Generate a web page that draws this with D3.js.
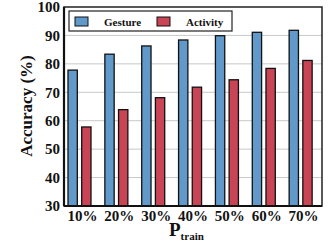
<!DOCTYPE html>
<html>
<head>
<meta charset="utf-8">
<script src="https://d3js.org/d3.v7.min.js"></script>
<style>
  body { margin: 0; background: #fff; }
  text { font-family: "Liberation Serif", "Times New Roman", serif; font-weight: bold; }
</style>
</head>
<body>
<div id="chart"></div>
<script>
var width = 331;
var height = 246;

var categories = ["10%", "20%", "30%", "40%", "50%", "60%", "70%"];
var seriesNames = ["Gesture", "Activity"];
var gesture = [77.8, 83.4, 86.3, 88.4, 89.9, 91.1, 91.8];
var activity = [57.8, 63.9, 68.1, 71.8, 74.4, 78.4, 81.2];
var yTicks = [30, 40, 50, 60, 70, 80, 90, 100];
var colors = ["#6199cb", "#c94556"];

var margin = {left: 64, right: 9, top: 7, bottom: 40};
var plotW = width - margin.left - margin.right;
var plotH = height - margin.top - margin.bottom;

var svg = d3.select("#chart").append("svg")
    .attr("width", width)
    .attr("height", height);

var g = svg.append("g")
    .attr("transform", "translate(" + margin.left + "," + margin.top + ")");

var x = d3.scaleBand().domain(categories).range([0, plotW]).padding(0);
var xs = d3.scaleBand().domain(seriesNames).range([4, 27]).paddingInner(0.32);
var y = d3.scaleLinear().domain([30, 100]).range([plotH, 0]);

// gridlines
g.append("g")
    .selectAll("line")
    .data(yTicks.slice(1, -1))
    .enter()
    .append("line")
    .attr("x1", 0).attr("x2", plotW)
    .attr("y1", function(d) { return y(d); })
    .attr("y2", function(d) { return y(d); })
    .attr("stroke", "#c8c8c8")
    .attr("stroke-width", 1);

var rows = categories.map(function(c, i) {
    return {cat: c, vals: [gesture[i], activity[i]]};
});

var groups = g.selectAll("g.grp")
    .data(rows)
    .enter()
    .append("g")
    .attr("class", "grp")
    .attr("transform", function(d) { return "translate(" + x(d.cat) + ",0)"; });

groups.selectAll("rect")
    .data(function(d) { return d.vals.map(function(v, j) { return {name: seriesNames[j], v: v, j: j}; }); })
    .enter()
    .append("rect")
    .attr("x", function(d) { return xs(d.name); })
    .attr("width", xs.bandwidth())
    .attr("y", function(d) { return y(d.v); })
    .attr("height", function(d) { return plotH - y(d.v); })
    .attr("fill", function(d) { return colors[d.j]; })
    .attr("stroke", "#111")
    .attr("stroke-width", 1.3);

// frame
g.append("rect")
    .attr("x", 0).attr("y", 0)
    .attr("width", plotW).attr("height", plotH)
    .attr("fill", "none")
    .attr("stroke", "#222")
    .attr("stroke-width", 1.5);
g.append("line")
    .attr("x1", 0).attr("x2", 0).attr("y1", 0).attr("y2", plotH)
    .attr("stroke", "#111").attr("stroke-width", 2.2);
g.append("line")
    .attr("x1", 0).attr("x2", plotW).attr("y1", plotH).attr("y2", plotH)
    .attr("stroke", "#111").attr("stroke-width", 2.2);

// axes
var yAxis = g.append("g")
    .call(d3.axisLeft(y).tickValues(yTicks).tickSize(0).tickPadding(4));
yAxis.select(".domain").remove();
yAxis.selectAll("text")
    .attr("font-size", 15)
    .attr("fill", "#111")
    .attr("font-family", "Liberation Serif, serif")
    .attr("font-weight", "bold");

var xAxis = g.append("g")
    .attr("transform", "translate(0," + plotH + ")")
    .call(d3.axisBottom(x).tickSize(0).tickPadding(4));
xAxis.select(".domain").remove();
xAxis.selectAll("text")
    .attr("font-size", 15)
    .attr("fill", "#111")
    .attr("font-family", "Liberation Serif, serif")
    .attr("font-weight", "bold");

// axis titles
svg.append("text")
    .attr("transform", "translate(32,106) rotate(-90)")
    .attr("text-anchor", "middle")
    .attr("font-size", 17)
    .attr("fill", "#111")
    .text("Accuracy (%)");

var xt = svg.append("text")
    .attr("x", 169)
    .attr("y", 236)
    .attr("fill", "#111");
xt.append("tspan").attr("font-size", 19).text("P");
xt.append("tspan").attr("font-size", 11).attr("dy", 4).text("train");

// legend
var leg = g.append("g").attr("transform", "translate(5,4)");
leg.append("rect")
    .attr("width", 163).attr("height", 20)
    .attr("fill", "#fff")
    .attr("stroke", "#222")
    .attr("stroke-width", 1.2);
var legX = [6, 88];
seriesNames.forEach(function(name, i) {
    leg.append("rect")
        .attr("x", legX[i]).attr("y", 6)
        .attr("width", 13).attr("height", 9)
        .attr("fill", colors[i])
        .attr("stroke", "#111")
        .attr("stroke-width", 1);
    leg.append("text")
        .attr("x", legX[i] + 29)
        .attr("y", 15)
        .attr("font-size", 11)
        .attr("fill", "#111")
        .text(name);
});
</script>
</body>
</html>
